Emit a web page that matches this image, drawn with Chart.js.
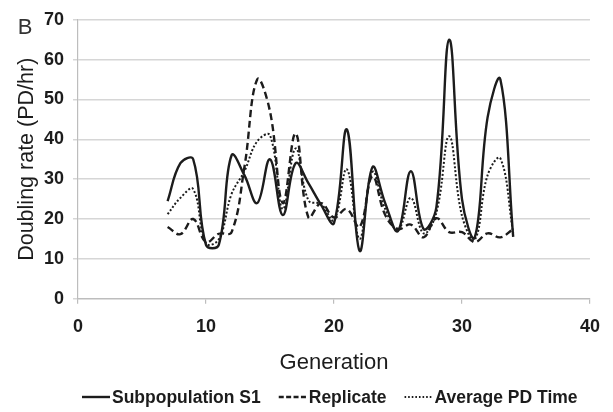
<!DOCTYPE html>
<html>
<head>
<meta charset="utf-8">
<script src="https://cdn.jsdelivr.net/npm/chart.js@4/dist/chart.umd.min.js"></script>
<style>
  html, body { margin: 0; padding: 0; background: #ffffff; }
  #wrap { width: 613px; height: 412px; }
</style>
</head>
<body>
<div id="wrap"><canvas id="chart" width="613" height="412"></canvas></div>
<script>
// Generation numbers and doubling rates (PD/hr) for each series
const generations = [7, 8, 9, 10, 11, 12, 13, 14, 15, 16, 17, 18, 19, 20,
                     21, 22, 23, 24, 25, 26, 27, 28, 29, 30, 31, 32, 33, 34];
const subpopulationS1 = [24.5, 34, 35, 13.5, 13.5, 36, 31, 24, 35, 21, 34, 29, 23.5, 19,
                         42.5, 12, 33, 24, 17, 32, 17.5, 23, 65, 25, 15.4, 45.5, 55, 15.5];
const replicate = [18, 16.2, 20, 14.2, 16.3, 16.7, 33, 55, 47, 24, 41.5, 20.4, 24, 20.4,
                   22.5, 18, 30.7, 21, 17.5, 18.6, 15.4, 20.2, 16.7, 16.7, 14.2, 16.4, 15.4, 17.5];
const averagePDTime = [21.2, 25.3, 27.5, 13.9, 14.9, 26.3, 32, 39.5, 41, 22.5, 37.7, 24.7, 23.7, 19.7,
                       32.5, 15, 31.8, 22.5, 17.2, 25.3, 16.4, 21.6, 40.8, 20.8, 14.8, 31, 35.2, 16.5];
const xTicks = [0, 10, 20, 30, 40];
const yTicks = [0, 10, 20, 30, 40, 50, 60, 70];

const seriesNames = ['Subpopulation S1', 'Replicate', 'Average PD Time'];
const FONT = "'Liberation Sans', Arial, sans-serif";
const INK = '#1c1c1c';

function points(values) {
  return generations.map((g, i) => ({ x: g, y: values[i] }));
}

// Panel letter in the top-left corner
const panelLetter = {
  id: 'panelLetter',
  afterDraw(chart) {
    const ctx = chart.ctx;
    ctx.save();
    ctx.font = '22px ' + FONT;
    ctx.fillStyle = '#333333';
    ctx.textAlign = 'center';
    ctx.textBaseline = 'middle';
    ctx.fillText('B', 25, 28);
    ctx.restore();
  }
};

// One-row legend under the axis title: a short line sample, then the series name
const seriesLegend = {
  id: 'seriesLegend',
  afterDraw(chart, args, opts) {
    const ctx = chart.ctx;
    ctx.save();
    ctx.font = 'bold ' + opts.fontSize + 'px ' + FONT;
    ctx.textBaseline = 'middle';
    ctx.textAlign = 'left';
    let x = opts.left;
    chart.data.datasets.forEach((ds, i) => {
      ctx.strokeStyle = ds.borderColor;
      ctx.lineWidth = ds.borderWidth;
      ctx.setLineDash(opts.dashes[i]);
      ctx.beginPath();
      ctx.moveTo(x, opts.lineY);
      ctx.lineTo(x + opts.sample, opts.lineY);
      ctx.stroke();
      x += opts.sample + opts.gap;
      ctx.fillStyle = INK;
      ctx.fillText(ds.label, x, opts.textY);
      x += ctx.measureText(ds.label).width + opts.spacing;
    });
    ctx.restore();
  }
};

const lineStyle = { fill: false, tension: 0.4, pointRadius: 0, borderColor: INK, backgroundColor: INK };

new Chart(document.getElementById('chart'), {
  type: 'line',
  data: {
    datasets: [
      Object.assign({ label: seriesNames[0], data: points(subpopulationS1), borderWidth: 2.4 }, lineStyle),
      Object.assign({ label: seriesNames[1], data: points(replicate), borderWidth: 2.4, borderDash: [7, 4] }, lineStyle),
      Object.assign({ label: seriesNames[2], data: points(averagePDTime), borderWidth: 2, borderDash: [2, 2] }, lineStyle)
    ]
  },
  options: {
    responsive: false,
    animation: false,
    devicePixelRatio: 1,
    layout: { padding: { top: 17, right: 10, bottom: 30, left: 0 } },
    plugins: {
      tooltip: { enabled: false },
      legend: { display: false },
      seriesLegend: {
        left: 82, lineY: 397, textY: 398, sample: 28, gap: 2, spacing: 18, fontSize: 17.5,
        dashes: [[], [5, 2.4], [1.6, 2]]
      }
    },
    scales: {
      x: {
        type: 'linear',
        min: xTicks[0],
        max: xTicks[xTicks.length - 1],
        afterBuildTicks(scale) { scale.ticks = xTicks.map(v => ({ value: v })); },
        afterFit(scale) { scale.height = 83.3; },
        ticks: {
          color: INK,
          padding: 13,
          font: { family: FONT, size: 18, weight: 'bold' }
        },
        grid: { drawOnChartArea: false, drawTicks: true, tickLength: 5, color: '#bdbdbd', lineWidth: 1.2 },
        border: { display: true, color: '#bdbdbd', width: 1.2 },
        title: {
          display: true,
          text: 'Generation',
          color: INK,
          padding: { top: 0, bottom: 6 },
          font: { family: FONT, size: 22 }
        }
      },
      y: {
        min: yTicks[0],
        max: yTicks[yTicks.length - 1],
        afterBuildTicks(scale) { scale.ticks = yTicks.map(v => ({ value: v })); },
        afterFit(scale) { scale.width = 78; },
        ticks: {
          color: INK,
          padding: 9,
          font: { family: FONT, size: 18, weight: 'bold' }
        },
        grid: { drawOnChartArea: true, drawTicks: true, tickLength: 5, color: '#d6d6d6', lineWidth: 1.5 },
        border: { display: true, color: '#bdbdbd', width: 1.2 },
        title: {
          display: true,
          text: 'Doubling rate (PD/hr)',
          color: INK,
          padding: { top: 14, bottom: 0 },
          font: { family: FONT, size: 21.5 }
        }
      }
    }
  },
  plugins: [panelLetter, seriesLegend]
});
</script>
</body>
</html>
